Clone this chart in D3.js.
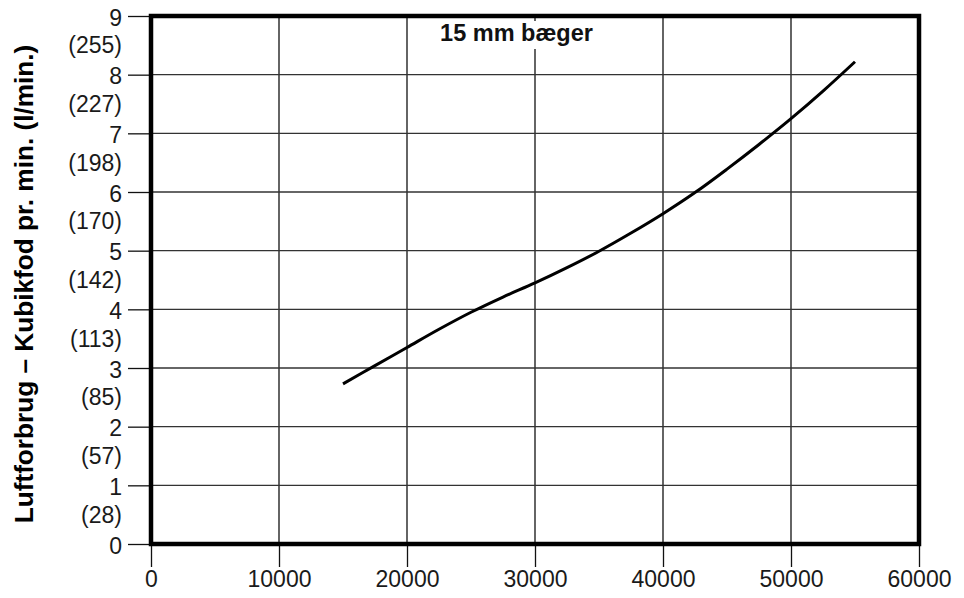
<!DOCTYPE html>
<html>
<head>
<meta charset="utf-8">
<script src="https://cdn.jsdelivr.net/npm/d3@7"></script>
<style>
  html, body { margin: 0; padding: 0; background: #fff; }
  svg { display: block; font-family: "Liberation Sans", Arial, Helvetica, sans-serif; }
</style>
</head>
<body>
<svg id="chart" width="964" height="598"></svg>
<script>
// ---- data ----
const rpm = [15000, 17500, 20000, 22500, 25000, 27500, 30000, 32500, 35000, 37500, 40000, 42500, 45000, 47500, 50000, 52500, 55000];
const cfm = [2.73, 3.04, 3.35, 3.66, 3.95, 4.21, 4.45, 4.71, 4.99, 5.30, 5.63, 5.99, 6.39, 6.81, 7.25, 7.72, 8.22];
const xTicks = [0, 10000, 20000, 30000, 40000, 50000, 60000];
const yTicks = [0, 1, 2, 3, 4, 5, 6, 7, 8, 9];
const literLabels = ["(28)", "(57)", "(85)", "(113)", "(142)", "(170)", "(198)", "(227)", "(255)"];
const literPos = [0.5, 1.5, 2.5, 3.5, 4.5, 5.5, 6.5, 7.5, 8.5];
const titleText = "15 mm bæger";
const yTitle = "Luftforbrug – Kubikfod pr. min. (l/min.)";

// ---- layout ----
const svg = d3.select("#chart");
const x = d3.scaleLinear().domain([0, 60000]).range([151, 919]);
const y = d3.scaleLinear().domain([0, 9]).range([544, 16]);
const fontSize = 23;

// grid
const grid = svg.append("g");
grid.selectAll("line.v").data(xTicks.slice(1, -1)).join("line")
  .attr("x1", d => x(d)).attr("x2", d => x(d))
  .attr("y1", y(0)).attr("y2", y(9))
  .attr("stroke", "#111").attr("stroke-width", 1.3);
grid.selectAll("line.h").data(yTicks.slice(1, -1)).join("line")
  .attr("x1", x(0)).attr("x2", x(60000))
  .attr("y1", d => y(d)).attr("y2", d => y(d))
  .attr("stroke", "#333").attr("stroke-width", 1.4);

// axes
const xAxis = d3.axisBottom(x).tickValues(xTicks).tickSize(23).tickPadding(4).tickFormat(d3.format("d"));
const gx = svg.append("g").attr("transform", `translate(0,${y(0)})`).call(xAxis);
gx.select(".domain").remove();
gx.selectAll(".tick line").attr("stroke", "#111").attr("stroke-width", 1.3);
gx.selectAll(".tick text").attr("font-size", fontSize).attr("fill", "#1a1a1a")
  .attr("font-family", "Liberation Sans, Arial, sans-serif");

const yAxis = d3.axisLeft(y).tickValues(yTicks).tickSize(23).tickPadding(6).tickFormat(d3.format("d"));
const gy = svg.append("g").attr("transform", `translate(${x(0)},0)`).call(yAxis);
gy.select(".domain").remove();
gy.selectAll(".tick line").attr("stroke", "#111").attr("stroke-width", 1.3);
gy.selectAll(".tick text").attr("font-size", fontSize).attr("fill", "#1a1a1a")
  .attr("font-family", "Liberation Sans, Arial, sans-serif")
  .attr("dy", null).attr("dominant-baseline", null)
  .attr("y", 9);

// liter labels
svg.append("g").selectAll("text").data(literLabels).join("text")
  .attr("x", x(0) - 29)
  .attr("y", (d, i) => y(literPos[i]) + 8)
  .attr("text-anchor", "end")
  .attr("font-size", fontSize)
  .attr("fill", "#1a1a1a")
  .text(d => d);

// curve
const line = d3.line().x(d => x(d[0])).y(d => y(d[1])).curve(d3.curveCatmullRom.alpha(0.5));
svg.append("path")
  .datum(rpm.map((r, i) => [r, cfm[i]]))
  .attr("d", line)
  .attr("fill", "none")
  .attr("stroke", "#000")
  .attr("stroke-width", 3);

// title with white box
const tx = 516.5, tyBase = 40.5;
svg.append("rect").attr("x", tx - 80).attr("y", 21).attr("width", 160).attr("height", 28).attr("fill", "#fff");
svg.append("text").attr("x", tx).attr("y", tyBase)
  .attr("text-anchor", "middle").attr("font-size", 23.5).attr("font-weight", "bold")
  .attr("fill", "#111").text(titleText);

// frame
svg.append("rect")
  .attr("x", x(0)).attr("y", y(9))
  .attr("width", x(60000) - x(0)).attr("height", y(0) - y(9))
  .attr("fill", "none").attr("stroke", "#000").attr("stroke-width", 4.5);

// y title
svg.append("text")
  .attr("transform", `translate(33,284) rotate(-90)`)
  .attr("text-anchor", "middle")
  .attr("font-size", 26.2)
  .attr("font-weight", "bold")
  .attr("fill", "#000")
  .text(yTitle);
</script>
</body>
</html>
